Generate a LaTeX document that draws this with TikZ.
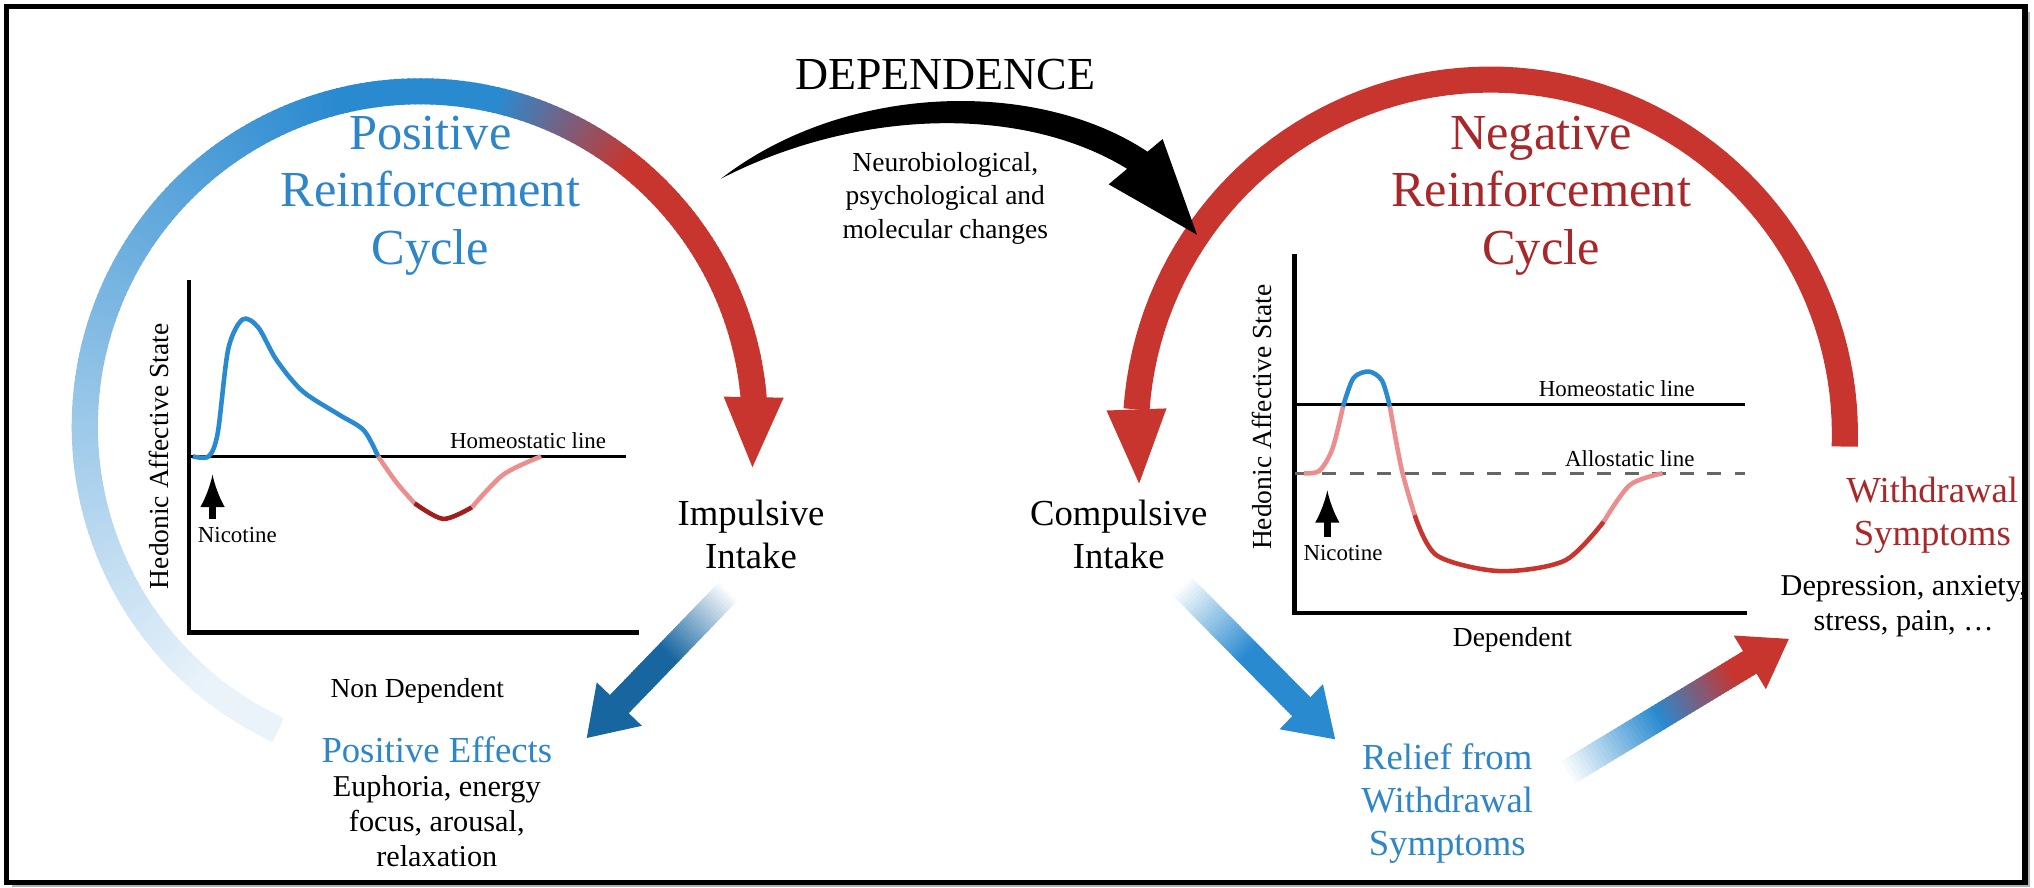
\documentclass[tikz,border=0pt]{standalone}
\usepackage{amsmath}
\usepackage{fontspec}
\setmainfont{Liberation Serif}
\usetikzlibrary{calc}
\definecolor{cycblue}{HTML}{2A8AD0}
\definecolor{cycred}{HTML}{C8352E}
\definecolor{darkblue}{HTML}{1766A0}
\definecolor{txtblue}{HTML}{2E86C8}
\definecolor{txtred}{HTML}{A8282A}
\definecolor{curvepink}{HTML}{EC8E8E}
\definecolor{curvered}{HTML}{A01E1E}
\tikzset{
  title/.style={align=center,font=\fontsize{11}{12.5}\selectfont},
  label/.style={align=center,font=\fontsize{8}{9.4}\selectfont},
  small/.style={align=center,font=\fontsize{6}{7.3}\selectfont},
  tiny/.style={font=\fontsize{5}{5.5}\selectfont},
  axis/.style={black,line width=0.35mm},
  curve/.style={line width=0.35mm,smooth}
}
\newcommand{\arrowhd}[4]{\fill[#4] ($(#1)!#3!90:(#2)$) -- (#2) -- ($(#1)!#3!-90:(#2)$) -- cycle;}
\begin{document}
\begin{tikzpicture}[x=0.01cm,y=-0.01cm]
\useasboundingbox (0,0) rectangle (1560,681);
% frame
\fill[black!30] (9,9) rectangle (1557,680);
\draw[black,line width=0.4mm,fill=white] (5,5) rectangle (1553,677);
% left cycle
\coordinate (lc) at (322,327);
\foreach \a in {115,116,...,354} {
  \pgfmathsetmacro\p{min(100,max(10,(\a-115)/140*100))}
  \pgfmathsetmacro\q{min(100,max(0,(\a-283)/25*100))}
  \draw[line width=2mm,color=cycred!\q!cycblue!\p!white] ($(lc)+(\a:257)$) -- ($(lc)+(\a+1.3:257)$);
}
\coordinate (lhb) at ($(lc)+(355:257)$);
\coordinate (lht) at ($(lc)+(367:257)$);
\arrowhd{lhb}{lht}{0.23cm}{cycred}
% right cycle
\coordinate (rc) at (1143,333);
\draw[cycred,line width=2mm] plot[domain=-176:2,samples=80,variable=\t] ({1143+272*cos(\t)},{333+272*sin(\t)});
\coordinate (rhb) at ($(rc)+(-176:272)$);
\coordinate (rht) at ($(rc)+(-188:272)$);
\arrowhd{rhb}{rht}{0.23cm}{cycred}
% dependence arrow
\fill[black] (553,137) .. controls (650,62) and (800,60) .. (884,119) -- (870,133) .. controls (790,80) and (660,82) .. (553,137) -- cycle;
\coordinate (dhb) at (871,124);
\coordinate (dht) at (918,180);
\arrowhd{dhb}{dht}{0.27cm}{black}
% blue and red connectors
\coordinate (ia) at (560,452);
\coordinate (ib) at (475,540);
\foreach \t in {0,0.02,...,0.99} {
  \pgfmathsetmacro\p{min(100,\t*180)}
  \draw[line width=2mm,color=darkblue!\p!white] ($(ia)!\t!(ib)$) -- ($(ia)!\t+0.03!(ib)$);
}
\coordinate (it) at (450,566);
\arrowhd{ib}{it}{0.24cm}{darkblue}
\coordinate (ca) at (905,448);
\coordinate (cb) at (998,542);
\foreach \t in {0,0.02,...,0.99} {
  \pgfmathsetmacro\p{min(100,\t*180)}
  \draw[line width=2mm,color=cycblue!\p!white] ($(ca)!\t!(cb)$) -- ($(ca)!\t+0.03!(cb)$);
}
\coordinate (ct) at (1024,567);
\arrowhd{cb}{ct}{0.24cm}{cycblue}
\coordinate (wa) at (1200,594);
\coordinate (wb) at (1342,508);
\foreach \t in {0,0.02,...,0.99} {
  \pgfmathsetmacro\p{min(100,\t*200)}
  \pgfmathsetmacro\q{min(100,max(0,(\t-0.5)*250))}
  \draw[line width=2mm,color=cycred!\q!cycblue!\p!white] ($(wa)!\t!(wb)$) -- ($(wa)!\t+0.03!(wb)$);
}
\coordinate (wt) at (1372,490);
\arrowhd{wb}{wt}{0.24cm}{cycred}
% left graph
\draw[axis] (145,215) -- (145,485) -- (490,485);
\draw[black,line width=0.25mm] (145,350) -- (480,350);
\draw[curve,cycblue] plot coordinates {(148,350) (160,350) (167,332) (175,268) (186,245) (198,251) (212,276) (232,300) (260,318) (279,330) (290,350)};
\draw[curve,curvepink] plot coordinates {(290,350) (304,370) (318,386)};
\draw[curve,curvered] plot coordinates {(318,386) (340,398) (362,389)};
\draw[curve,curvepink] plot coordinates {(362,389) (386,364) (415,350)};
\draw[-latex,black,line width=0.5mm] (163,398) -- (163,364);
% right graph
\draw[axis] (993,195) -- (993,470) -- (1340,470);
\draw[black,line width=0.25mm] (993,310) -- (1338,310);
\draw[black!60,line width=0.25mm,dashed] (993,363) -- (1338,363);
\draw[curve,curvepink] plot coordinates {(1000,363) (1012,361) (1022,344) (1030,312)};
\draw[curve,cycblue] plot coordinates {(1030,312) (1038,290) (1050,285) (1060,292) (1066,312)};
\draw[curve,curvepink] plot coordinates {(1066,312) (1075,360) (1085,395)};
\draw[curve,cycred] plot coordinates {(1085,395) (1102,426) (1150,438) (1200,430) (1230,400)};
\draw[curve,curvepink] plot coordinates {(1230,400) (1250,372) (1275,363)};
\draw[-latex,black,line width=0.5mm] (1018,412) -- (1018,376);
% texts
\node[title,text=txtblue] (prc) at (330,150) {Positive\\Reinforcement\\Cycle};
\node[title,text=txtred] (nrc) at (1182,150) {Negative\\Reinforcement\\Cycle};
\node[title,font=\fontsize{10}{11}\selectfont] (dep) at (725,57) {DEPENDENCE};
\node[small] (chg) at (725,152) {Neurobiological,\\psychological and\\molecular changes};
\node[small,rotate=90] (hasl) at (122,350) {Hedonic Affective State};
\node[small,rotate=90] (hasr) at (968,320) {Hedonic Affective State};
\node[tiny] (nicl) at (182,410) {Nicotine};
\node[tiny] (nicr) at (1030,424) {Nicotine};
\node[tiny] (hlinel) at (405,338) {Homeostatic line};
\node[tiny] (hliner) at (1240,298) {Homeostatic line};
\node[tiny] (aline) at (1250,352) {Allostatic line};
\node[small] (nondep) at (320,530) {Non Dependent};
\node[small] (dep2) at (1160,491) {Dependent};
\node[label] (imp) at (576,410) {Impulsive\\Intake};
\node[label] (comp) at (858,410) {Compulsive\\Intake};
\node[label,text=txtblue] (pef) at (335,575) {Positive Effects};
\node[small,font=\fontsize{6.6}{7.6}\selectfont] (eup) at (335,630) {Euphoria, energy\\focus, arousal,\\relaxation};
\node[label,text=txtblue] (rel) at (1110,616) {Relief from\\Withdrawal\\Symptoms};
\node[label,text=txtred] (wds) at (1482,395) {Withdrawal\\Symptoms};
\node[small,font=\fontsize{6.6}{7.6}\selectfont] (dpr) at (1460,465) {Depression, anxiety,\\stress, pain, \dots};
\end{tikzpicture}
\end{document}
